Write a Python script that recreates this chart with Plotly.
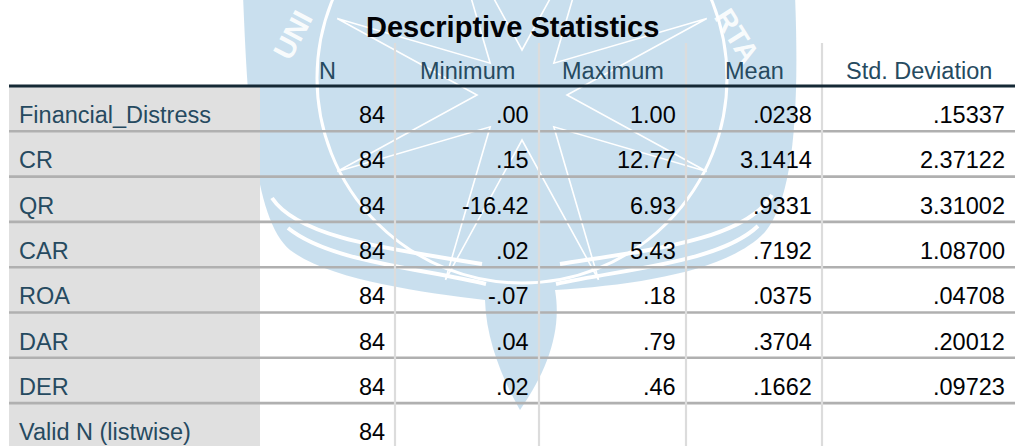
import math
import plotly.graph_objects as go

# ---------------- data ----------------
title = "Descriptive Statistics"
columns = ["N", "Minimum", "Maximum", "Mean", "Std. Deviation"]
variables = ["Financial_Distress", "CR", "QR", "CAR", "ROA", "DAR", "DER", "Valid N (listwise)"]
n_values = [84, 84, 84, 84, 84, 84, 84, 84]
minimum = [0.00, 0.15, -16.42, 0.02, -0.07, 0.04, 0.02, None]
maximum = [1.00, 12.77, 6.93, 5.43, 0.18, 0.79, 0.46, None]
mean = [0.0238, 3.1414, 0.9331, 0.7192, 0.0375, 0.3704, 0.1662, None]
std_dev = [0.15337, 2.37122, 3.31002, 1.08700, 0.04708, 0.20012, 0.09723, None]
decimals = [0, 2, 2, 4, 5]

# ---------------- layout constants ----------------
W, H = 1015, 446
COL_EDGES = [9, 260, 395, 539, 686, 822, 1015]
TITLE_Y = 27
HEADER_TOP = 43
HEADER_BOTTOM = 86
ROW_H = 45.3
TEXT_OFF = 29          # px from top of a row to the text centre
PAD = 9
FONT = "Liberation Sans, Arial, sans-serif"
BODY_SIZE = 23.5
TITLE_SIZE = 29
LABEL_COLOR = "#264a60"
VALUE_COLOR = "#010205"


def row_y(px):
    """pixel (from top) -> row units on the y axis"""
    return (px - HEADER_BOTTOM) / ROW_H


def spss(v, d):
    if v is None:
        return ""
    if d == 0:
        return str(int(v))
    s = f"{v:.{d}f}"
    if s.startswith("0."):
        s = s[1:]
    elif s.startswith("-0."):
        s = "-" + s[2:]
    return s


series = [n_values, minimum, maximum, mean, std_dev]
nrows = len(variables)

fig = go.Figure()
fig.add_trace(go.Scatter(x=[0, W], y=[row_y(0), row_y(H)], mode="markers",
                         marker=dict(opacity=0), hoverinfo="skip", showlegend=False))

shapes = []
annotations = []

# grey stub column
shapes.append(dict(type="rect", xref="x", yref="y", x0=COL_EDGES[0], x1=COL_EDGES[1],
                   y0=0, y1=nrows, fillcolor="#e0e0e0", line=dict(width=0), layer="below"))

# ---------------- watermark (decorative) ----------------
def P(x, y):
    return f"{x / W:.5f},{1 - y / H:.5f}"

BLUE = "rgba(126,179,215,0.42)"
outer = (f"M {P(243,-5)} L {P(795,-5)} "
         f"C {P(800,120)} {P(792,200)} {P(765,232)} "
         f"C {P(730,270)} {P(640,285)} {P(555,290)} "
         f"C {P(562,330)} {P(548,370)} {P(520,410)} "
         f"C {P(503,380)} {P(486,340)} {P(485,300)} "
         f"C {P(420,292)} {P(330,280)} {P(290,250)} "
         f"C {P(255,220)} {P(248,120)} {P(243,-5)} Z")
shapes.append(dict(type="path", xref="paper", yref="paper", path=outer,
                   fillcolor=BLUE, line=dict(width=0), layer="below"))
# ring
cx, cy, r = 522, 78, 205
shapes.append(dict(type="circle", xref="paper", yref="paper",
                   x0=(cx - r) / W, x1=(cx + r) / W, y0=1 - (cy + r) / H, y1=1 - (cy - r) / H,
                   line=dict(color="white", width=3), layer="below"))
# star
scx, scy = 522, 95
pts = []
for k in range(16):
    ang = math.radians(22.5 + 22.5 * k)
    rr = 200 if k % 2 == 0 else 45
    pts.append(P(scx + rr * math.cos(ang), scy - rr * math.sin(ang)))
star = "M " + " L ".join(pts) + " Z"
shapes.append(dict(type="path", xref="paper", yref="paper", path=star,
                   line=dict(color="white", width=1.6), layer="below"))
# wings
for path in [f"M {P(272,198)} C {P(300,240)} {P(400,250)} {P(482,264)}",
             f"M {P(288,228)} C {P(330,262)} {P(420,268)} {P(486,284)}",
             f"M {P(772,195)} C {P(745,240)} {P(650,250)} {P(560,264)}",
             f"M {P(758,226)} C {P(720,262)} {P(630,268)} {P(556,284)}"]:
    shapes.append(dict(type="path", xref="paper", yref="paper", path=path,
                       line=dict(color="white", width=4), layer="below"))
annotations.append(dict(xref="paper", yref="paper", x=293 / W, y=1 - 35 / H, text="<b>UNI</b>",
                        textangle=-62, showarrow=False, xanchor="center", yanchor="middle",
                        font=dict(family=FONT, size=29, color="rgba(255,255,255,0.9)")))
annotations.append(dict(xref="paper", yref="paper", x=737 / W, y=1 - 36 / H, text="<b>RTA</b>",
                        textangle=58, showarrow=False, xanchor="center", yanchor="middle",
                        font=dict(family=FONT, size=29, color="rgba(255,255,255,0.9)")))

# ---------------- table grid ----------------
for i in range(1, nrows):
    shapes.append(dict(type="line", xref="x", yref="y", x0=COL_EDGES[0], x1=COL_EDGES[-1],
                       y0=i, y1=i, line=dict(color="#b0b0b0", width=2.6), layer="below"))
for xe in COL_EDGES[2:-1]:
    shapes.append(dict(type="line", xref="x", yref="y", x0=xe, x1=xe,
                       y0=row_y(HEADER_TOP), y1=nrows, line=dict(color="#dcdcdc", width=2.2),
                       layer="below"))
shapes.append(dict(type="line", xref="x", yref="y", x0=COL_EDGES[0], x1=COL_EDGES[-1],
                   y0=0, y1=0, line=dict(color="#152935", width=3), layer="below"))

# ---------------- text ----------------
annotations.append(dict(xref="x", yref="y", x=(COL_EDGES[0] + COL_EDGES[-1]) / 2,
                        y=row_y(TITLE_Y), text=f"<b>{title}</b>", showarrow=False,
                        xanchor="center", yanchor="middle",
                        font=dict(family=FONT, size=TITLE_SIZE, color=VALUE_COLOR)))
header_y = row_y(HEADER_BOTTOM - 15.5)
for j, col in enumerate(columns):
    annotations.append(dict(xref="x", yref="y", x=(COL_EDGES[j + 1] + COL_EDGES[j + 2]) / 2,
                            y=header_y, text=col, showarrow=False, xanchor="center",
                            yanchor="middle", borderpad=0,
                            font=dict(family=FONT, size=BODY_SIZE, color=LABEL_COLOR)))
for i, var in enumerate(variables):
    yc = i + TEXT_OFF / ROW_H
    annotations.append(dict(xref="x", yref="y", x=COL_EDGES[0] + PAD, y=yc, text=var,
                            showarrow=False, xanchor="left", yanchor="middle", borderpad=0,
                            font=dict(family=FONT, size=BODY_SIZE, color=LABEL_COLOR)))
    for j, vals in enumerate(series):
        txt = spss(vals[i], decimals[j])
        if not txt:
            continue
        annotations.append(dict(xref="x", yref="y", x=COL_EDGES[j + 2] - PAD, y=yc, text=txt,
                                showarrow=False, xanchor="right", yanchor="middle", borderpad=0,
                                font=dict(family=FONT, size=BODY_SIZE, color=VALUE_COLOR)))

fig.update_layout(
    width=W, height=H, margin=dict(l=0, r=0, t=0, b=0),
    paper_bgcolor="white", plot_bgcolor="rgba(0,0,0,0)",
    xaxis=dict(range=[0, W], visible=False, fixedrange=True),
    yaxis=dict(range=[row_y(H), row_y(0)], visible=False, fixedrange=True),
    shapes=shapes, annotations=annotations, showlegend=False,
)
fig.write_html("out.html", config={"displayModeBar": False},
               post_script="document.body.style.margin='0';document.body.style.padding='0';"
                           "document.body.style.overflow='hidden';")
